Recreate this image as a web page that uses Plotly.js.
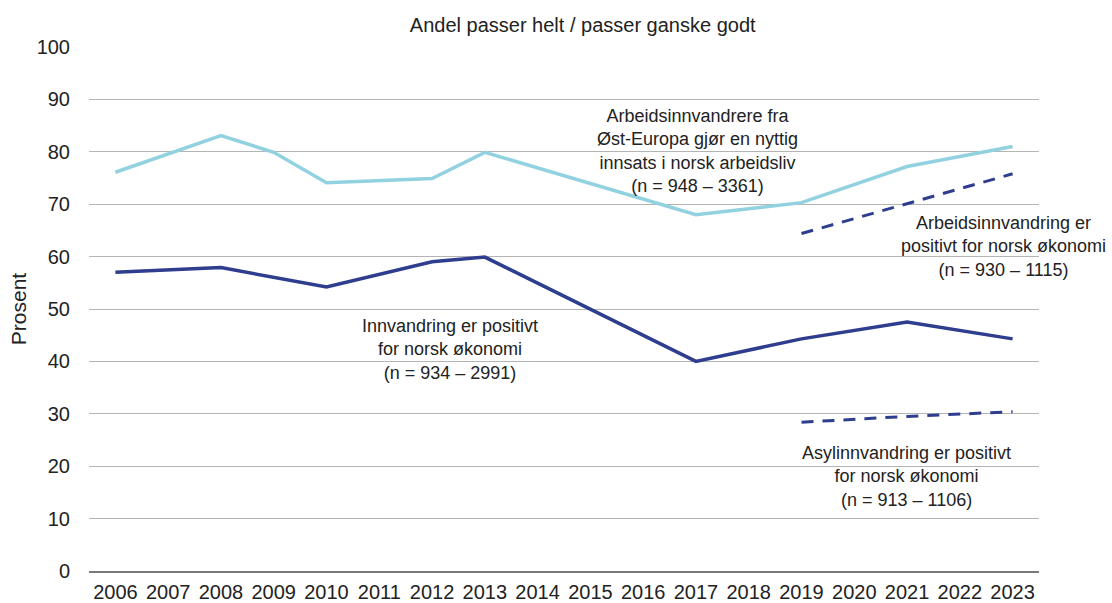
<!DOCTYPE html>
<html>
<head>
<meta charset="utf-8">
<script src="https://cdn.plot.ly/plotly-3.0.1.min.js"></script>
<style>
  html, body { margin: 0; padding: 0; background: #ffffff; }
  #chart { width: 1112px; height: 603px; }
</style>
</head>
<body>
<div id="chart"></div>
<script>
// ---- Data ----
const years = ["2006","2007","2008","2009","2010","2011","2012","2013","2014","2015","2016","2017","2018","2019","2020","2021","2022","2023"];
// Arbeidsinnvandrere fra Øst-Europa gjør en nyttig innsats i norsk arbeidsliv
const ostEuropa   = [76.1, null, 83.1, 79.9, 74.1, null, 74.9, 79.9, null, null, null, 68.0, null, 70.3, null, 77.2, null, 81.0];
// Innvandring er positivt for norsk økonomi
const innvandring = [57.0, null, 57.9, null, 54.2, null, 59.0, 59.9, null, null, null, 40.0, null, 44.3, null, 47.5, null, 44.3];
// Arbeidsinnvandring er positivt for norsk økonomi
const arbeidsinnvandring = [null, null, null, null, null, null, null, null, null, null, null, null, null, 64.4, null, 70.1, null, 75.8];
// Asylinnvandring er positivt for norsk økonomi
const asylinnvandring    = [null, null, null, null, null, null, null, null, null, null, null, null, null, 28.4, null, 29.5, null, 30.4];

const yTicks = [0, 10, 20, 30, 40, 50, 60, 70, 80, 90, 100];

const chartTitle = "Andel passer helt / passer ganske godt";
const yTitle = "Prosent";
const labelOst = "Arbeidsinnvandrere fra<br>Øst-Europa gjør en nyttig<br>innsats i norsk arbeidsliv<br>(n = 948 – 3361)";
const labelArb = "Arbeidsinnvandring er<br>positivt for norsk økonomi<br>(n = 930 – 1115)";
const labelInn = "Innvandring er positivt<br>for norsk økonomi<br>(n = 934 – 2991)";
const labelAsyl = "Asylinnvandring er positivt<br>for norsk økonomi<br>(n = 913 – 1106)";

// ---- Styles ----
const lightBlue = "#92d2e0";
const darkBlue = "#2e3d8e";
const FONT = "'Liberation Sans', Arial, Helvetica, sans-serif";

const traces = [
  { x: years, y: ostEuropa, type: "scatter", mode: "lines", connectgaps: true,
    line: { color: lightBlue, width: 3.5 } },
  { x: years, y: innvandring, type: "scatter", mode: "lines", connectgaps: true,
    line: { color: darkBlue, width: 3.5 } },
  { x: years, y: arbeidsinnvandring, type: "scatter", mode: "lines", connectgaps: true,
    line: { color: darkBlue, width: 3, dash: "12px,9px" } },
  { x: years, y: asylinnvandring, type: "scatter", mode: "lines", connectgaps: true,
    line: { color: darkBlue, width: 3, dash: "12px,9px" } }
];

const annFont = { family: FONT, size: 18, color: "#222222" };
const layout = {
  width: 1112, height: 603,
  margin: { l: 89, r: 73, t: 47, b: 32 },
  paper_bgcolor: "#ffffff", plot_bgcolor: "#ffffff",
  showlegend: false,
  hovermode: false,
  font: { family: FONT, size: 20, color: "#222222" },
  title: { text: chartTitle, font: { family: FONT, size: 20, color: "#222222" },
           xref: "container", x: 0.524, xanchor: "center",
           yref: "container", y: 0.9585, yanchor: "middle" },
  xaxis: {
    type: "category", categoryorder: "array", categoryarray: years,
    range: [-0.5, 17.5],
    showgrid: false, zeroline: false,
    showline: true, linecolor: "#7a7a7a", linewidth: 1.5,
    ticks: "outside", ticklen: 2, tickcolor: "rgba(0,0,0,0)",
    tickfont: { family: FONT, size: 20, color: "#222222" },
    fixedrange: true
  },
  yaxis: {
    range: [0, 100], tickvals: yTicks,
    showgrid: true, gridcolor: "#b4b4b4", gridwidth: 1,
    zeroline: false, showline: false,
    ticks: "outside", ticklen: 14, tickcolor: "rgba(0,0,0,0)",
    tickfont: { family: FONT, size: 20, color: "#222222" },
    title: { text: yTitle, font: { family: FONT, size: 21, color: "#222222" }, standoff: 4 },
    fixedrange: true
  },
  annotations: [
    { text: labelOst, xref: "paper", yref: "paper", x: 0.640, y: 0.8006,
      xanchor: "center", yanchor: "middle", showarrow: false, align: "center", font: annFont },
    { text: labelArb, xref: "paper", yref: "paper", x: 0.963, y: 0.620,
      xanchor: "center", yanchor: "middle", showarrow: false, align: "center", font: annFont },
    { text: labelInn, xref: "paper", yref: "paper", x: 0.380, y: 0.4218,
      xanchor: "center", yanchor: "middle", showarrow: false, align: "center", font: annFont },
    { text: labelAsyl, xref: "paper", yref: "paper", x: 0.861, y: 0.1803,
      xanchor: "center", yanchor: "middle", showarrow: false, align: "center", font: annFont }
  ]
};

Plotly.newPlot("chart", traces, layout, { displayModeBar: false, staticPlot: true });
</script>
</body>
</html>
